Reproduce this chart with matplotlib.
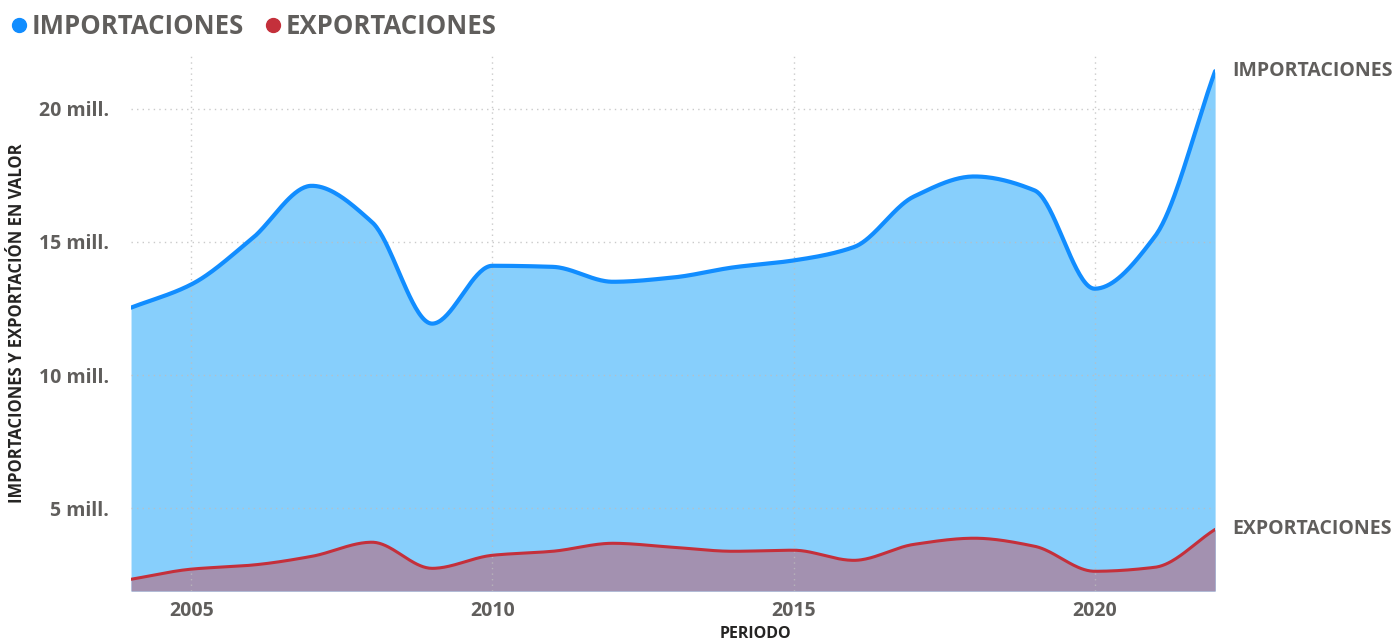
import numpy as np
import matplotlib
matplotlib.use("Agg")
import matplotlib.pyplot as plt
from matplotlib.lines import Line2D
from matplotlib.ticker import FuncFormatter

plt.rcParams['font.family'] = ['Open Sans', 'DejaVu Sans']

# data (values in millions)
years = [2004, 2005, 2006, 2007, 2008, 2009, 2010, 2011, 2012, 2013,
         2014, 2015, 2016, 2017, 2018, 2019, 2020, 2021, 2022]
importaciones = [12.53, 13.40, 15.10, 17.10, 15.74, 11.93, 14.10, 14.06, 13.50, 13.66,
                 14.04, 14.30, 14.80, 16.70, 17.45, 16.93, 13.24, 15.20, 21.40]
exportaciones = [2.34, 2.72, 2.87, 3.20, 3.73, 2.75, 3.24, 3.39, 3.69, 3.54,
                 3.39, 3.43, 3.05, 3.65, 3.88, 3.58, 2.64, 2.79, 4.21]
y_ticks = [5, 10, 15, 20]
x_ticks = [2005, 2010, 2015, 2020]

IMP_LINE = '#118DFF'
IMP_FILL = '#87CFFC'
EXP_LINE = '#C4303B'
EXP_FILL = '#A391B0'
TEXT = '#605E5C'


def smooth(x, y, n=40):
    """ Monotone cubic (pchip-like) curve through the points, for drawing only. """
    x = np.asarray(x, float)
    y = np.asarray(y, float)
    h = np.diff(x)
    d = np.diff(y) / h
    m = np.zeros_like(y)
    for i in range(1, len(y) - 1):
        if d[i - 1] * d[i] > 0:
            w1 = 2 * h[i] + h[i - 1]
            w2 = h[i] + 2 * h[i - 1]
            m[i] = (w1 + w2) / (w1 / d[i - 1] + w2 / d[i])
    m[0] = d[0]
    m[-1] = d[-1]
    xs, ys = [], []
    for i in range(len(x) - 1):
        t = np.linspace(0, 1, n, endpoint=False)
        h00 = 2 * t**3 - 3 * t**2 + 1
        h10 = t**3 - 2 * t**2 + t
        h01 = -2 * t**3 + 3 * t**2
        h11 = t**3 - t**2
        xs.append(x[i] + t * h[i])
        ys.append(h00 * y[i] + h10 * h[i] * m[i] + h01 * y[i + 1] + h11 * h[i] * m[i + 1])
    xs.append([x[-1]])
    ys.append([y[-1]])
    return np.concatenate(xs), np.concatenate(ys)


fig = plt.figure(figsize=(13.97, 6.44), dpi=100)
ax = fig.add_axes([0.0938, 0.0823, 0.776, 0.832])

ix, iy = smooth(years, importaciones)
ex, ey = smooth(years, exportaciones)
base = 1.9

ax.fill_between(ix, base, iy, color=IMP_FILL, linewidth=0)
ax.fill_between(ex, base, ey, color=EXP_FILL, linewidth=0)
ax.plot(ix, iy, color=IMP_LINE, linewidth=3, solid_capstyle='round')
ax.plot(ex, ey, color=EXP_LINE, linewidth=2.2, solid_capstyle='round')

ax.set_xlim(years[0], years[-1])
ax.set_ylim(base, 22.0)
ax.set_xticks(x_ticks)
ax.set_yticks(y_ticks)
ax.yaxis.set_major_formatter(FuncFormatter(lambda v, p: f"{int(v)} mill."))
ax.grid(True, color='#BDBDBD', linestyle=(0, (1, 3)), linewidth=1, alpha=0.8)
for s in ax.spines.values():
    s.set_visible(False)
ax.tick_params(length=0, labelsize=14, labelcolor=TEXT)
ax.tick_params(axis='y', pad=16)
ax.tick_params(axis='x', pad=7)
for lbl in ax.get_xticklabels() + ax.get_yticklabels():
    lbl.set_fontweight('bold')

ax.set_ylabel('IMPORTACIONES Y EXPORTACIÓN EN VALOR', fontsize=12, fontweight='bold',
              color='#252423')
ax.yaxis.set_label_coords(-0.097, 0.5)
ax.set_xlabel('PERIODO', fontsize=11.5, fontweight='bold', color='#252423')
ax.xaxis.set_label_coords(0.576, -0.066)

# series labels at the right end of the lines
ax.annotate('IMPORTACIONES', xy=(years[-1], importaciones[-1]), xytext=(12, 0),
            textcoords='offset points', va='center', ha='left', fontsize=14,
            fontweight='bold', color=TEXT, annotation_clip=False)
ax.annotate('EXPORTACIONES', xy=(years[-1], exportaciones[-1]), xytext=(12, 0),
            textcoords='offset points', va='center', ha='left', fontsize=14,
            fontweight='bold', color=TEXT, annotation_clip=False)

handles = [Line2D([], [], marker='o', linestyle='', color=IMP_LINE, markersize=10),
           Line2D([], [], marker='o', linestyle='', color=EXP_LINE, markersize=10)]
leg = fig.legend(handles, ['IMPORTACIONES', 'EXPORTACIONES'], loc='upper left',
                 bbox_to_anchor=(-0.012, 1.015), ncol=2, frameon=False, handletextpad=0.0,
                 columnspacing=0.6, handlelength=1.0,
                 prop={'size': 18.5, 'weight': 'bold'})
for t in leg.get_texts():
    t.set_color(TEXT)

fig.savefig('out.png', dpi=100)
